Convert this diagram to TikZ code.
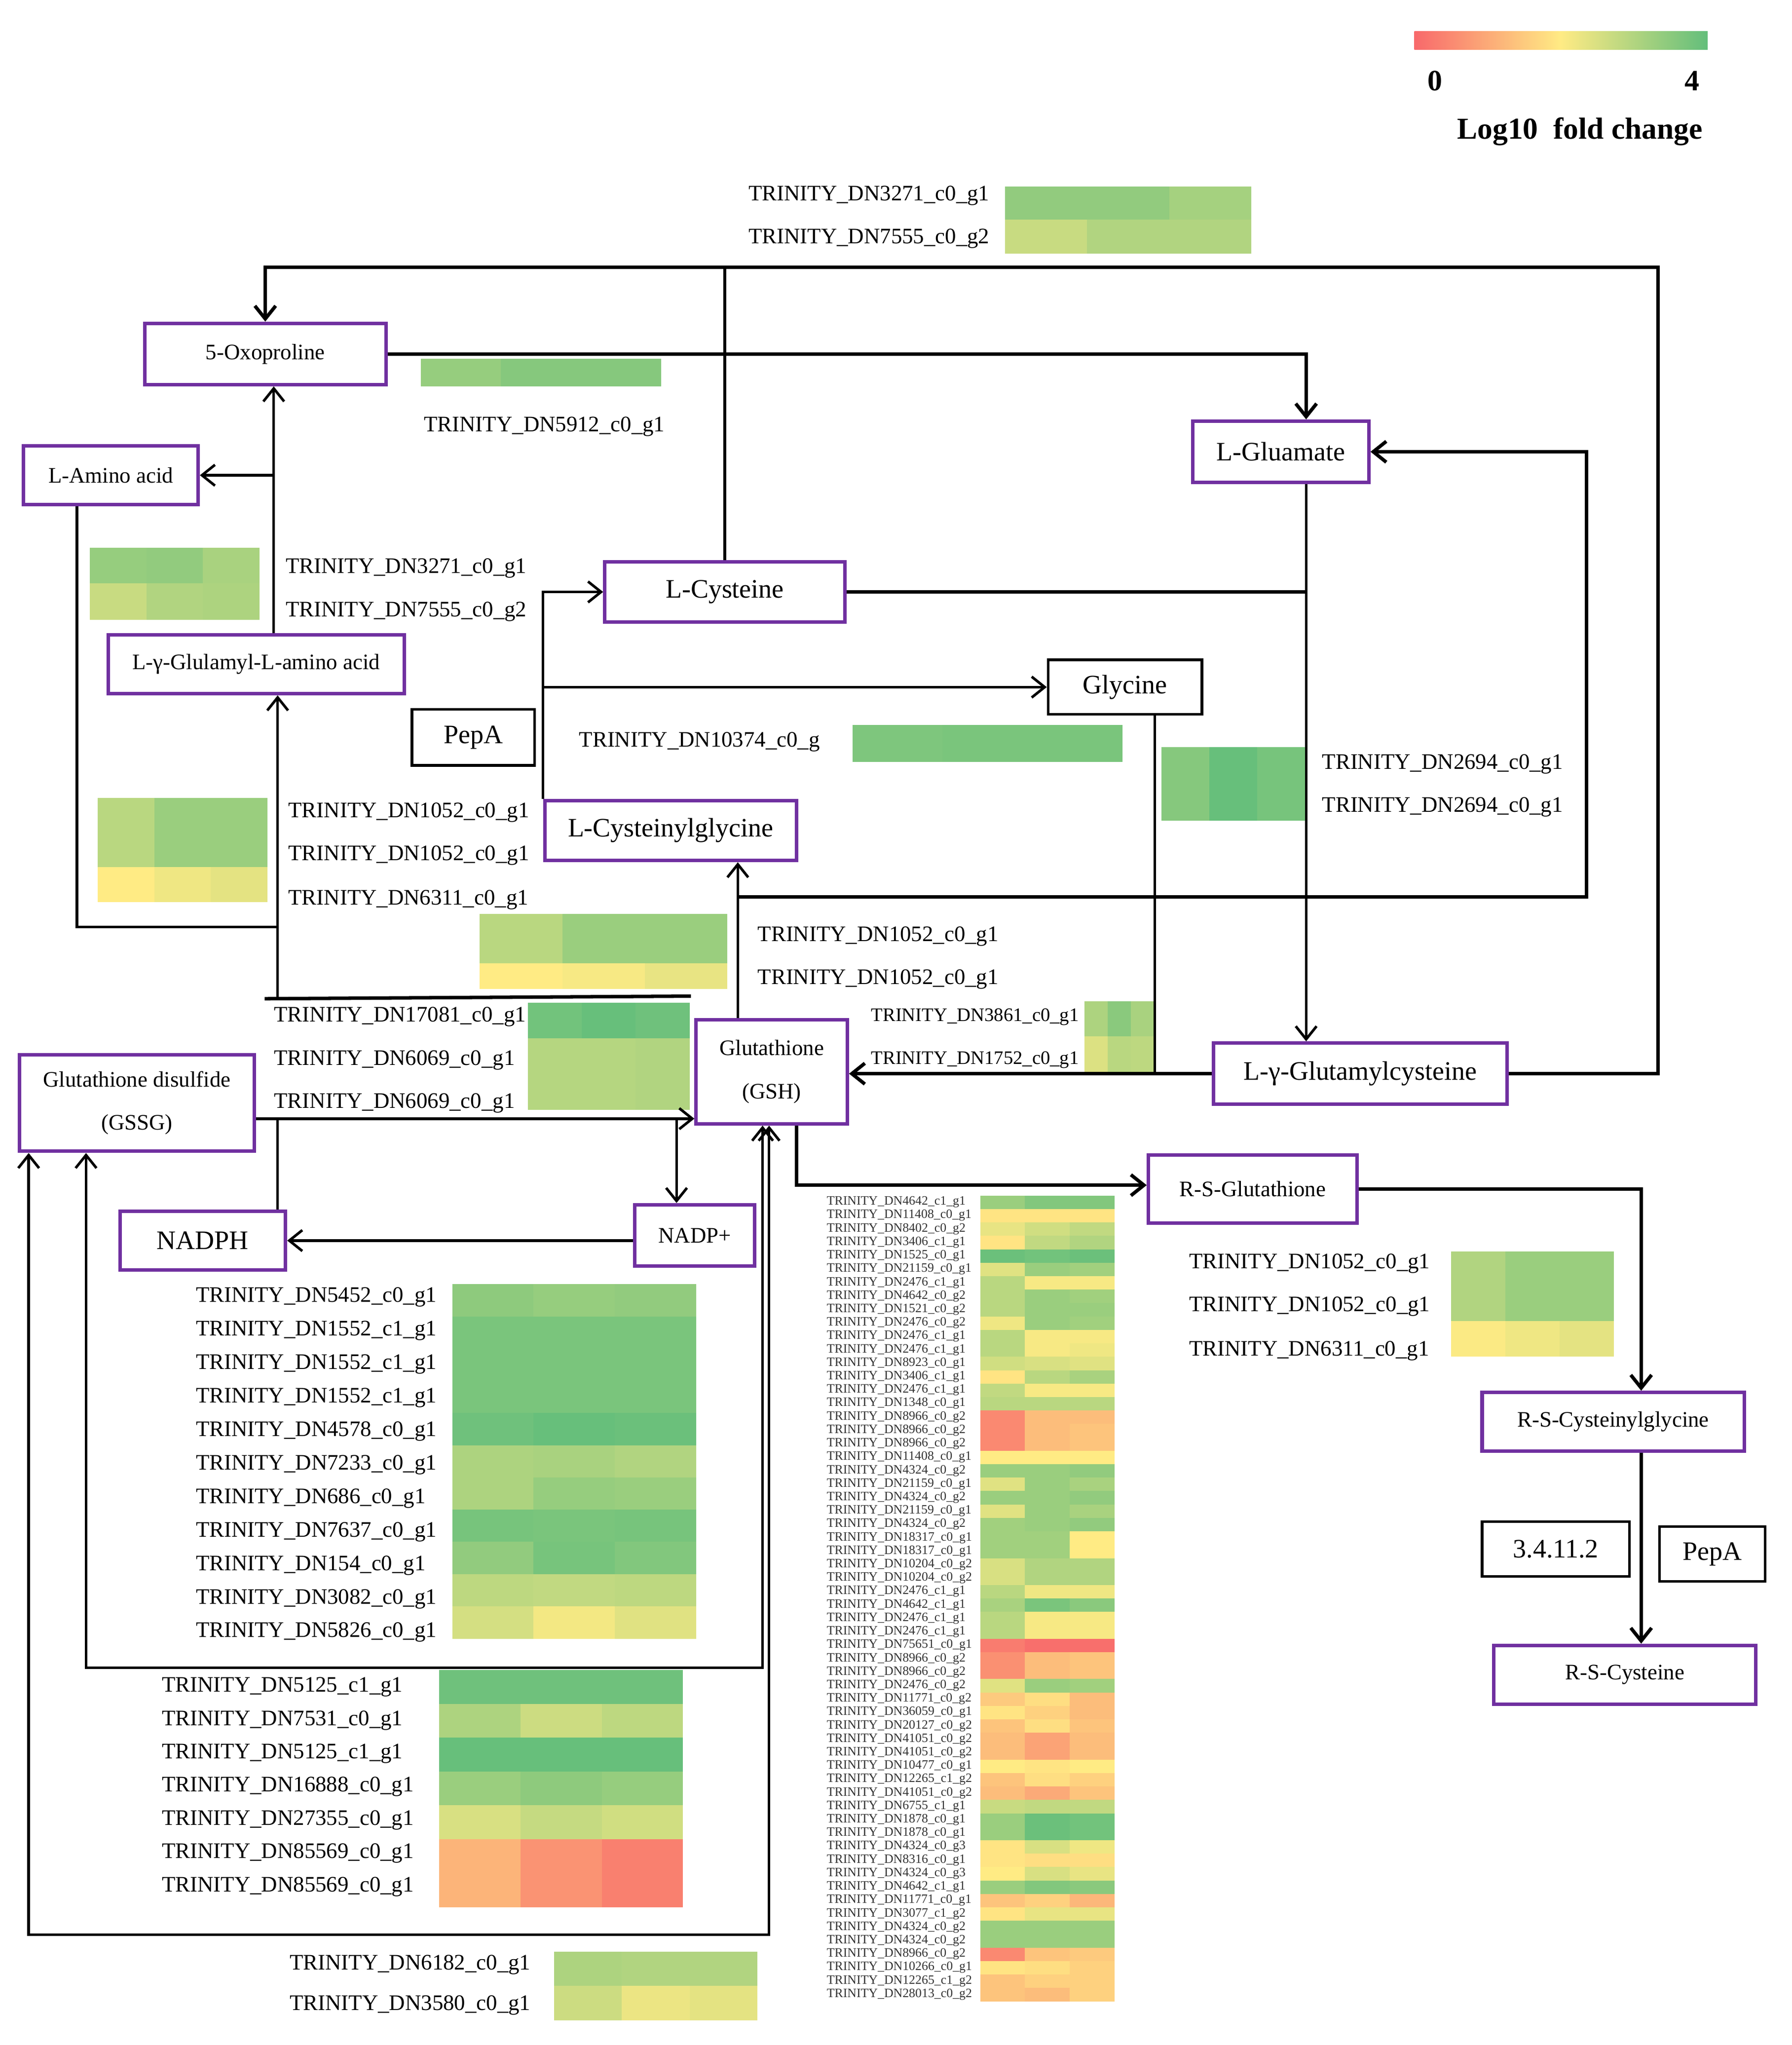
\documentclass[tikz,border=0pt]{standalone}
\usepackage{fontspec}
\setmainfont{Liberation Serif}
\usetikzlibrary{arrows.meta}
\definecolor{hmR}{HTML}{F8696B}
\definecolor{hmY}{HTML}{FFEB84}
\definecolor{hmG}{HTML}{63BE7B}
\definecolor{boxpurple}{HTML}{7030A0}
\newcommand\uu{0.02642cm}
\newcommand\setheat[1]{%
  \pgfmathsetmacro\hv{#1}%
  \pgfmathtruncatemacro\hflag{\hv<2 ? 1 : 0}%
  \ifnum\hflag=1
    \pgfmathsetmacro\hp{\hv*50}%
    \colorlet{hcc}{hmY!\hp!hmR}%
  \else
    \pgfmathsetmacro\hp{(\hv-2)*50}%
    \colorlet{hcc}{hmG!\hp!hmY}%
  \fi}
\newcommand\heatmap[5]{%
  \foreach \va/\vb/\vc [count=\ri from 0] in {#5}{%
    \setheat{\va}\fill[hcc] ({#1},{#2+\ri*#4}) rectangle ++({#3/3+0.4},{#4+0.4});
    \setheat{\vb}\fill[hcc] ({#1+#3/3},{#2+\ri*#4}) rectangle ++({#3/3+0.4},{#4+0.4});
    \setheat{\vc}\fill[hcc] ({#1+2*#3/3},{#2+\ri*#4}) rectangle ++({#3/3},{#4+0.4});
  }}
\newcommand\gl[3]{\node[glab] (#1) at (#2) {TRINITY\_#3};}
\begin{document}
\begin{tikzpicture}[x=0.02642cm, y=-0.02642cm,
  smallf/.style={font=\fontsize{12.75}{24.8}\selectfont},
  bigf/.style={font=\fontsize{15.35}{18}\selectfont},
  pbox/.style={draw=boxpurple, line width=2pt, fill=white, inner sep=0pt, align=center},
  kbox/.style={draw=black, line width=1.5pt, fill=white, inner sep=0pt, align=center},
  glab/.style={anchor=west, inner sep=0pt, font=\fontsize{12.75}{15}\selectfont},
  glabs/.style={anchor=west, inner sep=0pt, font=\fontsize{11}{13}\selectfont},
  tlab/.style={anchor=west, inner sep=0pt, text=black!80, font=\fontsize{7.35}{8}\selectfont},
  conn/.style={line width=1.5pt},
  connt/.style={line width=2pt},
  conna/.style={line width=1.5pt, -{Straight Barb[length=7.5pt,width=12pt]}},
  connb/.style={line width=1.5pt, {Straight Barb[length=7.5pt,width=12pt]}-{Straight Barb[length=7.5pt,width=12pt]}}]
\useasboundingbox (0,0) rectangle (1374.7,1568.5);

% ---------- legend ----------
\shade[left color=hmR, right color=hmY] (1085,24) rectangle (1197.5,38);
\shade[left color=hmY, right color=hmG] (1197.5,24) rectangle (1310,38);
\node[font=\bfseries\fontsize{17}{20}\selectfont] (lz) at (1101,62) {0};
\node[font=\bfseries\fontsize{17}{20}\selectfont] (lf) at (1298,62) {4};
\node[font=\bfseries\fontsize{17.5}{20}\selectfont] (lt) at (1212,101) {Log10\ \ fold change};

% ---------- heatmaps ----------
\heatmap{771}{143}{189}{25.5}{3.4/3.4/3.15, 2.7/3.0/3.0}
\heatmap{323}{275}{184}{21}{3.35/3.55/3.55}
\heatmap{69}{420}{130}{27.5}{3.35/3.4/3.1, 2.7/3.0/3.05}
\heatmap{654}{556}{207}{28}{3.65/3.7/3.7}
\heatmap{891}{573}{110}{28}{3.55/3.95/3.75, 3.55/3.95/3.75}
\heatmap{75}{612}{130}{26.5}{2.9/3.3/3.3, 2.9/3.3/3.3, 2.0/2.2/2.35}
\heatmap{368}{701}{190}{19}{2.9/3.3/3.3, 2.9/3.3/3.3, 2.0/2.1/2.3}
\heatmap{405}{769}{124}{27.3}{3.8/3.95/3.85, 2.95/2.95/3.0, 2.95/2.95/3.0}
\heatmap{832}{768}{53}{27}{3.05/3.5/3.1, 2.45/2.9/2.85}
\heatmap{1113}{960}{125}{26.7}{3.0/3.3/3.3, 3.0/3.3/3.3, 2.05/2.2/2.35}
\heatmap{347}{985}{187}{24.7}{3.45/3.35/3.4, 3.7/3.7/3.7, 3.7/3.7/3.7, 3.7/3.7/3.7, 3.85/3.95/3.9, 3.05/3.1/3.0, 3.05/3.35/3.3, 3.75/3.7/3.75, 3.4/3.75/3.6, 2.85/2.8/2.85, 2.55/2.15/2.4}
\heatmap{337}{1281}{187}{25.9}{3.85/3.85/3.85, 3.05/2.65/2.85, 3.95/3.95/3.95, 3.3/3.45/3.35, 2.5/2.75/2.6, 1.15/0.65/0.35, 1.15/0.65/0.35}
\heatmap{425}{1497}{156}{26}{3.05/3.0/3.0, 2.65/2.25/2.35}

% ---------- big heatmap ----------
\foreach \nm/\va/\vb/\vc [count=\ri from 0] in {
4642\_c1\_g1/3.3/3.6/3.6, 11408\_c0\_g1/1.9/1.9/1.9, 8402\_c0\_g2/2.3/2.6/2.8, 3406\_c1\_g1/1.9/2.8/3.0, 1525\_c0\_g1/3.9/3.8/3.9,
21159\_c0\_g1/2.4/3.3/3.2, 2476\_c1\_g1/2.9/2.1/2.1, 4642\_c0\_g2/2.9/3.3/3.2, 1521\_c0\_g2/2.9/3.3/3.3, 2476\_c0\_g2/2.2/3.3/3.2,
2476\_c1\_g1/2.9/2.1/2.1, 2476\_c1\_g1/2.9/2.1/2.2, 8923\_c0\_g1/2.6/2.5/2.4, 3406\_c1\_g1/1.9/2.9/3.1, 2476\_c1\_g1/2.8/2.1/2.1,
1348\_c0\_g1/2.9/2.9/2.9, 8966\_c0\_g2/0.5/1.3/1.3, 8966\_c0\_g2/0.5/1.3/1.4, 8966\_c0\_g2/0.5/1.3/1.4, 11408\_c0\_g1/2.0/2.0/2.0,
4324\_c0\_g2/3.3/3.3/3.4, 21159\_c0\_g1/2.4/3.3/3.1, 4324\_c0\_g2/3.3/3.3/3.4, 21159\_c0\_g1/2.4/3.3/3.1, 4324\_c0\_g2/3.2/3.3/3.4,
18317\_c0\_g1/3.2/3.2/2.0, 18317\_c0\_g1/3.2/3.2/2.0, 10204\_c0\_g2/2.5/3.0/3.0, 10204\_c0\_g2/2.5/3.0/3.0, 2476\_c1\_g1/2.9/2.2/2.2,
4642\_c1\_g1/3.1/3.7/3.5, 2476\_c1\_g1/2.9/2.1/2.1, 2476\_c1\_g1/2.9/2.1/2.1, 75651\_c0\_g1/0.3/0.1/0.1, 8966\_c0\_g2/0.6/1.3/1.4,
8966\_c0\_g2/0.6/1.3/1.4, 2476\_c0\_g2/2.4/3.3/3.2, 11771\_c0\_g2/1.5/1.8/1.3, 36059\_c0\_g1/1.9/1.6/1.3, 20127\_c0\_g2/1.4/1.8/1.4,
41051\_c0\_g2/1.3/0.9/1.3, 41051\_c0\_g2/1.3/0.9/1.3, 10477\_c0\_g1/2.0/1.9/2.0, 12265\_c1\_g2/1.4/1.8/1.6, 41051\_c0\_g2/1.3/1.0/1.4,
6755\_c1\_g1/2.7/2.8/2.8, 1878\_c0\_g1/3.3/3.9/3.8, 1878\_c0\_g1/3.3/3.9/3.8, 4324\_c0\_g3/1.9/2.5/2.2, 8316\_c0\_g1/1.9/1.8/1.8,
4324\_c0\_g3/2.0/2.5/2.3, 4642\_c1\_g1/3.3/3.6/3.5, 11771\_c0\_g1/1.4/1.6/1.2, 3077\_c1\_g2/1.9/2.3/2.3, 4324\_c0\_g2/3.3/3.3/3.3,
4324\_c0\_g2/3.3/3.3/3.3, 8966\_c0\_g2/0.5/1.4/1.5, 10266\_c0\_g1/1.9/1.8/1.6, 12265\_c1\_g2/1.4/1.6/1.6, 28013\_c0\_g2/1.4/1.3/1.6}{
  \node[tlab] (bh\ri) at (634,{922+\ri*10.3}) {TRINITY\_DN\nm};
  \setheat{\va}\fill[hcc] (752,{917+\ri*10.3}) rectangle ++(34.8,10.6);
  \setheat{\vb}\fill[hcc] (786.3,{917+\ri*10.3}) rectangle ++(34.8,10.6);
  \setheat{\vc}\fill[hcc] (820.6,{917+\ri*10.3}) rectangle ++(34.4,10.6);
}

% ---------- gene labels ----------
\gl{a1}{574,150}{DN3271\_c0\_g1}
\gl{a2}{574,183}{DN7555\_c0\_g2}
\gl{b1}{325,327}{DN5912\_c0\_g1}
\gl{c1}{219,436}{DN3271\_c0\_g1}
\gl{c2}{219,469}{DN7555\_c0\_g2}
\gl{d1}{444,569}{DN10374\_c0\_g}
\gl{e1}{1014,586}{DN2694\_c0\_g1}
\gl{e2}{1014,619}{DN2694\_c0\_g1}
\gl{f1}{221,623}{DN1052\_c0\_g1}
\gl{f2}{221,656}{DN1052\_c0\_g1}
\gl{f3}{221,690}{DN6311\_c0\_g1}
\gl{g1}{581,718}{DN1052\_c0\_g1}
\gl{g2}{581,751}{DN1052\_c0\_g1}
\gl{h1}{210,780}{DN17081\_c0\_g1}
\gl{h2}{210,813}{DN6069\_c0\_g1}
\gl{h3}{210,846}{DN6069\_c0\_g1}
\node[glabs] (i1) at (668,780) {TRINITY\_DN3861\_c0\_g1};
\node[glabs] (i2) at (668,813) {TRINITY\_DN1752\_c0\_g1};
\gl{j1}{912,969}{DN1052\_c0\_g1}
\gl{j2}{912,1002}{DN1052\_c0\_g1}
\gl{j3}{912,1036}{DN6311\_c0\_g1}
\foreach \nm [count=\ri from 0] in {5452\_c0\_g1, 1552\_c1\_g1, 1552\_c1\_g1, 1552\_c1\_g1, 4578\_c0\_g1, 7233\_c0\_g1, 686\_c0\_g1, 7637\_c0\_g1, 154\_c0\_g1, 3082\_c0\_g1, 5826\_c0\_g1}{
  \node[glab] (k\ri) at (150,{995+\ri*25.7}) {TRINITY\_DN\nm};}
\foreach \nm [count=\ri from 0] in {5125\_c1\_g1, 7531\_c0\_g1, 5125\_c1\_g1, 16888\_c0\_g1, 27355\_c0\_g1, 85569\_c0\_g1, 85569\_c0\_g1}{
  \node[glab] (m\ri) at (124,{1294+\ri*25.5}) {TRINITY\_DN\nm};}
\gl{n1}{222,1507}{DN6182\_c0\_g1}
\gl{n2}{222,1538}{DN3580\_c0\_g1}

% ---------- boxes ----------
\node[pbox, smallf, minimum width=185*\uu, minimum height=47*\uu] (oxo) at (203.5,271.5) {5-Oxoproline};
\node[pbox, bigf, minimum width=135*\uu, minimum height=47*\uu] (glu) at (982.5,346.5) {L-Gluamate};
\node[pbox, smallf, minimum width=134*\uu, minimum height=45*\uu] (lam) at (85,364.5) {L-Amino acid};
\node[pbox, bigf, minimum width=184*\uu, minimum height=46*\uu] (cys) at (556,454) {L-Cysteine};
\node[pbox, smallf, minimum width=227*\uu, minimum height=45*\uu] (gaa) at (196.5,509.5) {L-γ-Glulamyl-L-amino acid};
\node[kbox, bigf, minimum width=118*\uu, minimum height=42*\uu] (gly) at (863,527) {Glycine};
\node[kbox, bigf, minimum width=94*\uu, minimum height=43*\uu] (pepa) at (363,565.5) {PepA};
\node[pbox, bigf, minimum width=193*\uu, minimum height=46*\uu] (cgly) at (514.5,637) {L-Cysteinylglycine};
\node[pbox, smallf, minimum width=116*\uu, minimum height=80*\uu] (gsh) at (592,822) {Glutathione\\(GSH)};
\node[pbox, smallf, minimum width=180*\uu, minimum height=74*\uu] (gssg) at (105,846) {Glutathione disulfide\\(GSSG)};
\node[pbox, bigf, minimum width=225*\uu, minimum height=47*\uu] (ggc) at (1043.5,823.5) {L-γ-Glutamylcysteine};
\node[pbox, bigf, minimum width=127*\uu, minimum height=45*\uu] (nadph) at (155.5,951.5) {NADPH};
\node[pbox, smallf, minimum width=92*\uu, minimum height=47*\uu] (nadp) at (533,947.5) {NADP+};
\node[pbox, smallf, minimum width=160*\uu, minimum height=52*\uu] (rsg) at (961,912) {R-S-Glutathione};
\node[pbox, smallf, minimum width=201*\uu, minimum height=45*\uu] (rscg) at (1237.5,1090.5) {R-S-Cysteinylglycine};
\node[kbox, bigf, minimum width=113*\uu, minimum height=42*\uu] (ec) at (1193.5,1188) {3.4.11.2};
\node[kbox, bigf, minimum width=81*\uu, minimum height=42*\uu] (pepb) at (1313.5,1192) {PepA};
\node[pbox, smallf, minimum width=201*\uu, minimum height=45*\uu] (rsc) at (1246.5,1284.5) {R-S-Cysteine};

% ---------- routing points ----------
\coordinate (tr) at (1272,205);
\coordinate (gx) at (1002,346.5);
\coordinate (ga) at (566,688);
\coordinate (rt) at (1217,346.5);
\coordinate (gy) at (886,825);
\coordinate (ox) at (210,370);
\coordinate (lb) at (59,711);
\coordinate (lc) at (213,711);
\coordinate (ld) at (213,765);
\coordinate (le) at (203,766);
\coordinate (lg) at (530,764);
\coordinate (sa) at (196,858);
\coordinate (sb) at (213,858);
\coordinate (sc) at (519,858);
\coordinate (ia) at (66,1279);
\coordinate (ib) at (585,1279);
\coordinate (oa) at (22,1484);
\coordinate (ob) at (590,1484);
\coordinate (ra) at (611,909);
\coordinate (rb) at (1259,912);

% ---------- connectors ----------
\draw[conna, line width=2pt] (ggc.east) -| (tr) -| (oxo.north);
\draw[conn] (cys.north) -- (cys.north |- tr);
\draw[conna, line width=2pt] (oxo.east) -| (gx |- glu.north);
\draw[conna] (gx |- glu.south) -- (gx |- ggc.north);
\draw[connt] (cys.east) -- (cys.east -| gx);
\draw[conna] (gsh.north -| ga) -- (cgly.south -| ga);
\draw[conna, line width=2pt] (ga) -| (rt) -- (glu.east);
\draw[conna] (cgly.north west) -- (cgly.north west |- cys.west) -- (cys.west);
\draw[conna] (cgly.north west |- gly.west) -- (gly.west);
\draw[conn] (gly.south -| gy) -- (gy |- ggc.west);
\draw[conna, line width=2pt] (ggc.west) -- (ggc.west -| gsh.east);
\draw[conna] (gaa.north -| ox) -- (oxo.south -| ox);
\draw[conna] (ox |- lam.east) -- (lam.east);
\draw[conn] (lam.south -| lb) -- (lb) -- (lc);
\draw[conna] (ld) -- (gaa.south -| ld);
\draw[connt] (le) -- (lg);
\draw[conna] (gssg.east |- sa) -- (sa -| gsh.west);
\draw[conn] (sb) -- (sb |- nadph.north);
\draw[conna] (sc) -- (sc |- nadp.north);
\draw[conna] (nadp.west |- nadph.east) -- (nadph.east);
\draw[connb] (gssg.south -| ia) -- (ia) -- (ib) -- (ib |- gsh.south);
\draw[connb] (gssg.south -| oa) -- (oa) -- (ob) -- (ob |- gsh.south);
\draw[conna, line width=2pt] (gsh.south -| ra) -- (ra) -- (ra -| rsg.west);
\draw[conna, line width=2pt] (rsg.east) -- (rb) -- (rb |- rscg.north);
\draw[conna, line width=2pt] (rscg.south -| rb) -- (rb |- rsc.north);
\end{tikzpicture}
\end{document}
